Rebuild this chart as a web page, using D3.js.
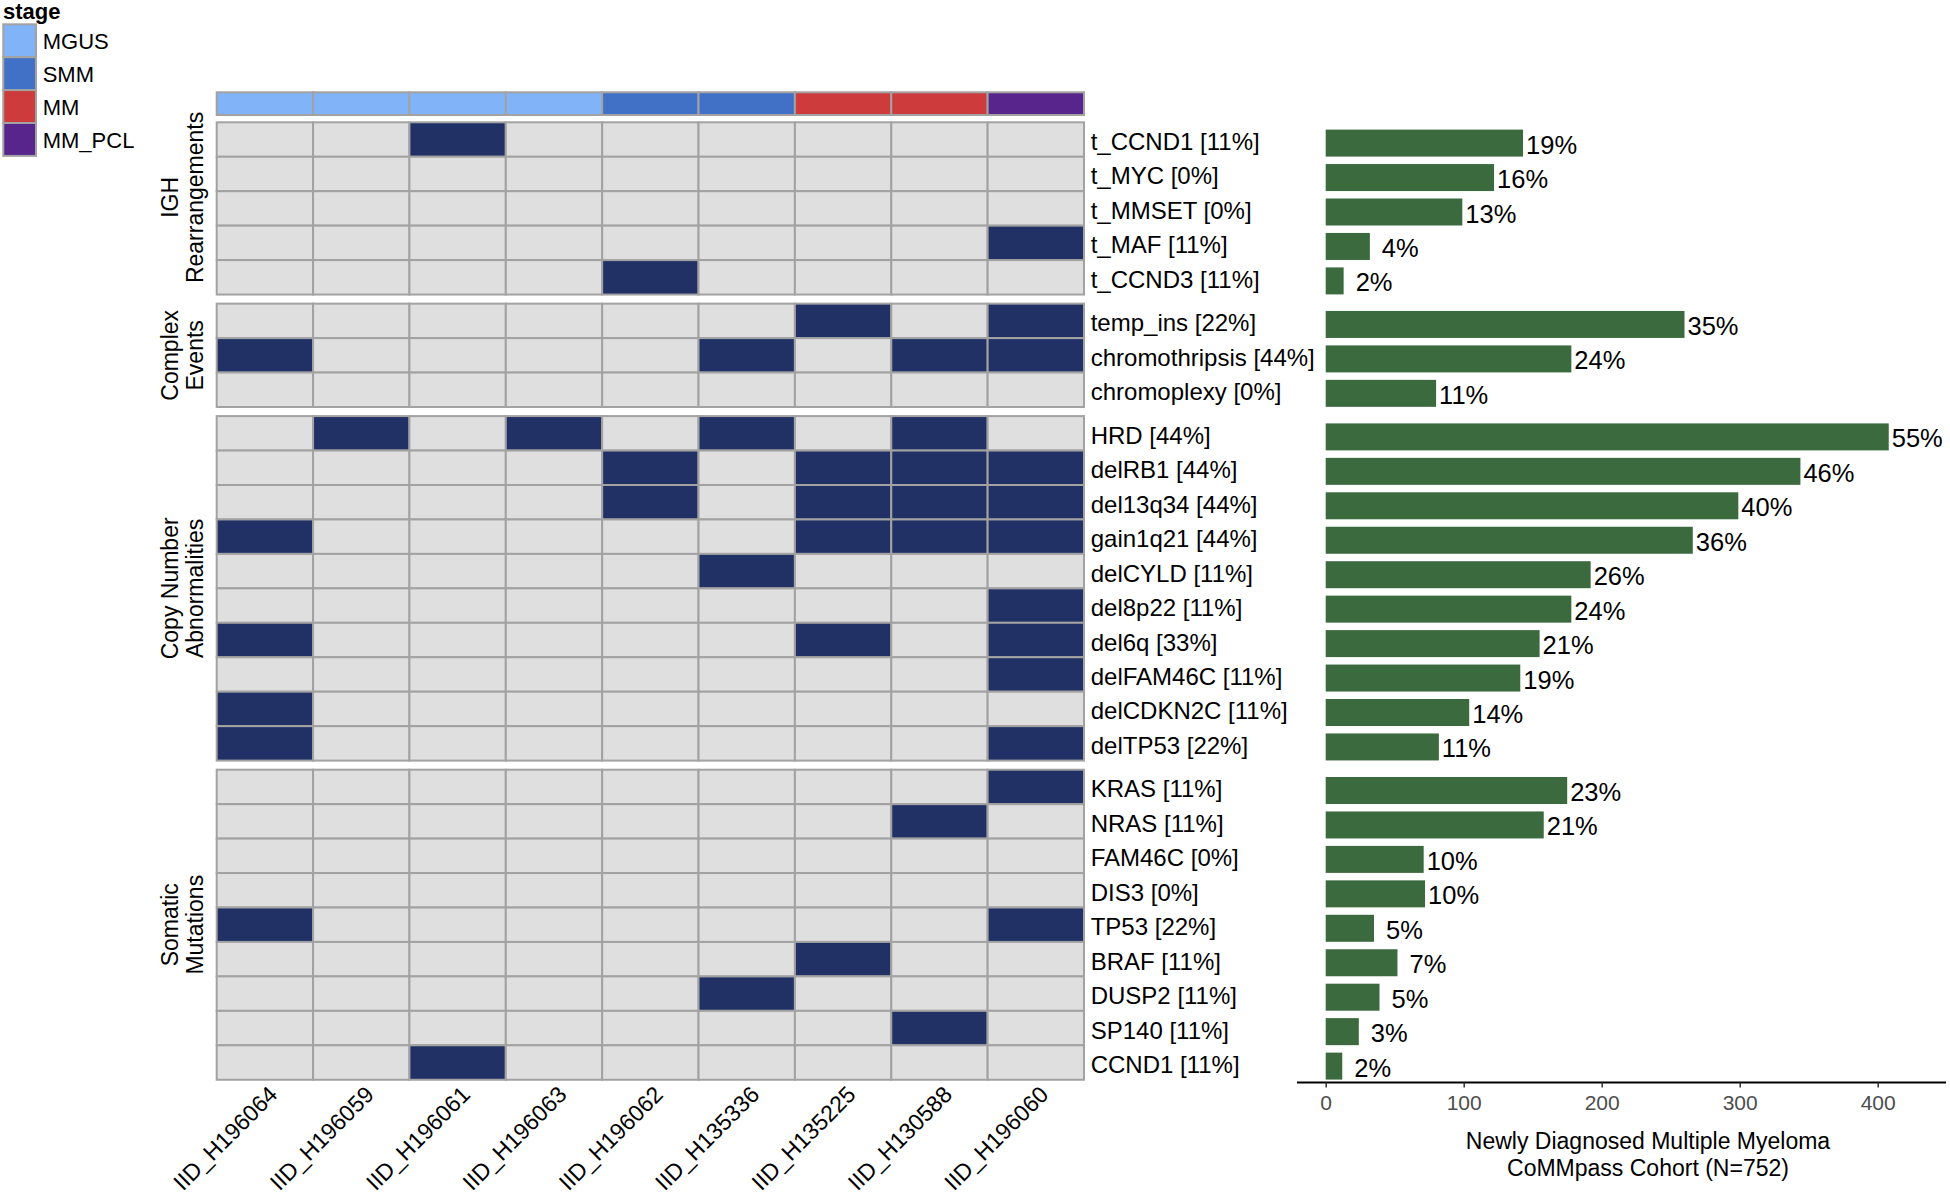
<!DOCTYPE html>
<html>
<head>
<meta charset="utf-8">
<script src="https://cdn.jsdelivr.net/npm/d3@7"></script>
<style>
  html, body { margin: 0; padding: 0; background: #fff; }
  svg { display: block; font-family: "Liberation Sans", Arial, Helvetica, sans-serif; }
</style>
</head>
<body>
<svg id="chart" width="1950" height="1196"></svg>
<script>
// ---------------- DATA ----------------
const samples = ["IID_H196064","IID_H196059","IID_H196061","IID_H196063","IID_H196062","IID_H135336","IID_H135225","IID_H130588","IID_H196060"];
const sampleStages = ["MGUS","MGUS","MGUS","MGUS","SMM","SMM","MM","MM","MM_PCL"];
const stageLevels = ["MGUS","SMM","MM","MM_PCL"];
const stageColors = ["#80b3f8","#4170c7","#cd3b3c","#58258c"];

const groupLabels = [["IGH","Rearrangements"],["Complex","Events"],["Copy Number","Abnormalities"],["Somatic","Mutations"]];

const features = ["t_CCND1","t_MYC","t_MMSET","t_MAF","t_CCND3",
  "temp_ins","chromothripsis","chromoplexy",
  "HRD","delRB1","del13q34","gain1q21","delCYLD","del8p22","del6q","delFAM46C","delCDKN2C","delTP53",
  "KRAS","NRAS","FAM46C","DIS3","TP53","BRAF","DUSP2","SP140","CCND1"];
const featureGroup = [0,0,0,0,0, 1,1,1, 2,2,2,2,2,2,2,2,2,2, 3,3,3,3,3,3,3,3,3];

// presence matrix: rows = features, columns = samples
const presence = [
  [0,0,1,0,0,0,0,0,0],
  [0,0,0,0,0,0,0,0,0],
  [0,0,0,0,0,0,0,0,0],
  [0,0,0,0,0,0,0,0,1],
  [0,0,0,0,1,0,0,0,0],
  [0,0,0,0,0,0,1,0,1],
  [1,0,0,0,0,1,0,1,1],
  [0,0,0,0,0,0,0,0,0],
  [0,1,0,1,0,1,0,1,0],
  [0,0,0,0,1,0,1,1,1],
  [0,0,0,0,1,0,1,1,1],
  [1,0,0,0,0,0,1,1,1],
  [0,0,0,0,0,1,0,0,0],
  [0,0,0,0,0,0,0,0,1],
  [1,0,0,0,0,0,1,0,1],
  [0,0,0,0,0,0,0,0,1],
  [1,0,0,0,0,0,0,0,0],
  [1,0,0,0,0,0,0,0,1],
  [0,0,0,0,0,0,0,0,1],
  [0,0,0,0,0,0,0,1,0],
  [0,0,0,0,0,0,0,0,0],
  [0,0,0,0,0,0,0,0,0],
  [1,0,0,0,0,0,0,0,1],
  [0,0,0,0,0,0,1,0,0],
  [0,0,0,0,0,1,0,0,0],
  [0,0,0,0,0,0,0,1,0],
  [0,0,1,0,0,0,0,0,0]
];

// CoMMpass cohort counts (N=752) and printed percentages
const cohortCounts = [143,122,99,32,13, 260,178,80, 408,344,299,266,192,178,155,141,104,82, 175,158,71,72,35,52,39,24,12];
const cohortPctLabels = ["19%","16%","13%","4%","2%","35%","24%","11%","55%","46%","40%","36%","26%","24%","21%","19%","14%","11%","23%","21%","10%","10%","5%","7%","5%","3%","2%"];
const axisTicks = [0,100,200,300,400];
const axisTitle = ["Newly Diagnosed Multiple Myeloma","CoMMpass Cohort (N=752)"];

// ---------------- LAYOUT ----------------
const svg = d3.select("#chart");
const heatLeft = 216.7, heatRight = 1084;
const rowTop0 = 122.3, rowH = 34.45, groupGap = 9.1;
const cellFill = "#dfdfdf", hitFill = "#213166", gridStroke = "#a2a2a2";

const x = d3.scaleBand().domain(samples).range([heatLeft, heatRight]);
const rowBand = d3.scaleBand().domain(features).range([rowTop0, rowTop0 + features.length * rowH]);
const y = f => rowBand(f) + featureGroup[features.indexOf(f)] * groupGap;
const stageColor = d3.scaleOrdinal().domain(stageLevels).range(stageColors);

// stage annotation bar
svg.append("g").selectAll("rect").data(samples).join("rect")
  .attr("x", d => x(d)).attr("y", 92.3)
  .attr("width", x.bandwidth()).attr("height", 22.7)
  .attr("fill", (d, i) => stageColor(sampleStages[i]))
  .attr("stroke", gridStroke).attr("stroke-width", 2);

// heatmap cells
const cells = [];
features.forEach((f, r) => samples.forEach((s, c) => cells.push({f, s, v: presence[r][c]})));
svg.append("g").selectAll("rect").data(cells).join("rect")
  .attr("x", d => x(d.s)).attr("y", d => y(d.f))
  .attr("width", x.bandwidth()).attr("height", rowBand.bandwidth())
  .attr("fill", d => d.v ? hitFill : cellFill)
  .attr("stroke", gridStroke).attr("stroke-width", 2);

// row labels with in-study percentages
svg.append("g").selectAll("text").data(features).join("text")
  .attr("x", heatRight + 6.7)
  .attr("y", f => y(f) + rowH / 2 + 10.5)
  .attr("font-size", 24).attr("fill", "#000")
  .text((f, r) => `${f} [${Math.round(100 * d3.sum(presence[r]) / samples.length)}%]`);

// group labels (rotated, two lines)
const groupCenterAdj = [-11, 0, 0, 0];
groupLabels.forEach((lines, g) => {
  const fs = features.filter((f, i) => featureGroup[i] === g);
  const top = y(fs[0]), bot = y(fs[fs.length - 1]) + rowH;
  const yc = (top + bot) / 2 + groupCenterAdj[g];
  lines.forEach((ln, k) => {
    svg.append("text")
      .attr("transform", `translate(${178 + k * 25},${yc}) rotate(-90)`)
      .attr("text-anchor", "middle").attr("font-size", 23).attr("fill", "#000")
      .text(ln);
  });
});

// sample labels (rotated 45°)
svg.append("g").selectAll("text").data(samples).join("text")
  .attr("transform", d => `translate(${x(d) + x.bandwidth() / 2 + 14},1096) rotate(-45)`)
  .attr("text-anchor", "end").attr("font-size", 23).attr("fill", "#000")
  .text(d => d);

// legend
svg.append("text").attr("x", 3).attr("y", 19).attr("font-size", 22).attr("font-weight", "bold").text("stage");
stageLevels.forEach((s, i) => {
  svg.append("rect").attr("x", 3.3).attr("y", 24.3 + i * 32.9).attr("width", 32.7).attr("height", 32.9)
    .attr("fill", stageColor(s)).attr("stroke", gridStroke).attr("stroke-width", 2);
  svg.append("text").attr("x", 42.7).attr("y", 24.3 + i * 32.9 + 25).attr("font-size", 22).text(s);
});

// ---------------- BAR CHART ----------------
const xb = d3.scaleLinear().domain([0, 400]).range([1325.7, 1325.7 + 552]);
const barColor = "#3c6a3f";
svg.append("g").selectAll("rect").data(features).join("rect")
  .attr("x", xb(0)).attr("y", f => y(f) + 7.3)
  .attr("width", (f, i) => xb(cohortCounts[i]) - xb(0))
  .attr("height", 27)
  .attr("fill", barColor);

svg.append("g").selectAll("text").data(features).join("text")
  .attr("x", (f, i) => xb(cohortCounts[i]) + (cohortPctLabels[i].length < 3 ? 12 : 3))
  .attr("y", f => y(f) + 7.3 + 13.5 + 10.5)
  .attr("font-size", 25.5).attr("fill", "#000")
  .text((f, i) => cohortPctLabels[i]);

// axis
const axisY = 1082.5;
svg.append("line").attr("x1", 1297).attr("x2", 1946).attr("y1", axisY).attr("y2", axisY)
  .attr("stroke", "#000").attr("stroke-width", 2);
const axisG = svg.append("g").attr("transform", `translate(0,${axisY})`)
  .call(d3.axisBottom(xb).tickValues(axisTicks).tickSize(5).tickPadding(8).tickFormat(d3.format("d")));
axisG.select(".domain").remove();
axisG.selectAll(".tick line").attr("stroke", "#333").attr("stroke-width", 1.5);
axisG.selectAll(".tick text").attr("font-size", 21).attr("fill", "#4d4d4d")
  .attr("font-family", "'Liberation Sans', Arial, sans-serif");

axisTitle.forEach((t, k) => {
  svg.append("text").attr("x", 1648).attr("y", 1149 + k * 27)
    .attr("text-anchor", "middle").attr("font-size", 23).attr("fill", "#000").text(t);
});
</script>
</body>
</html>
